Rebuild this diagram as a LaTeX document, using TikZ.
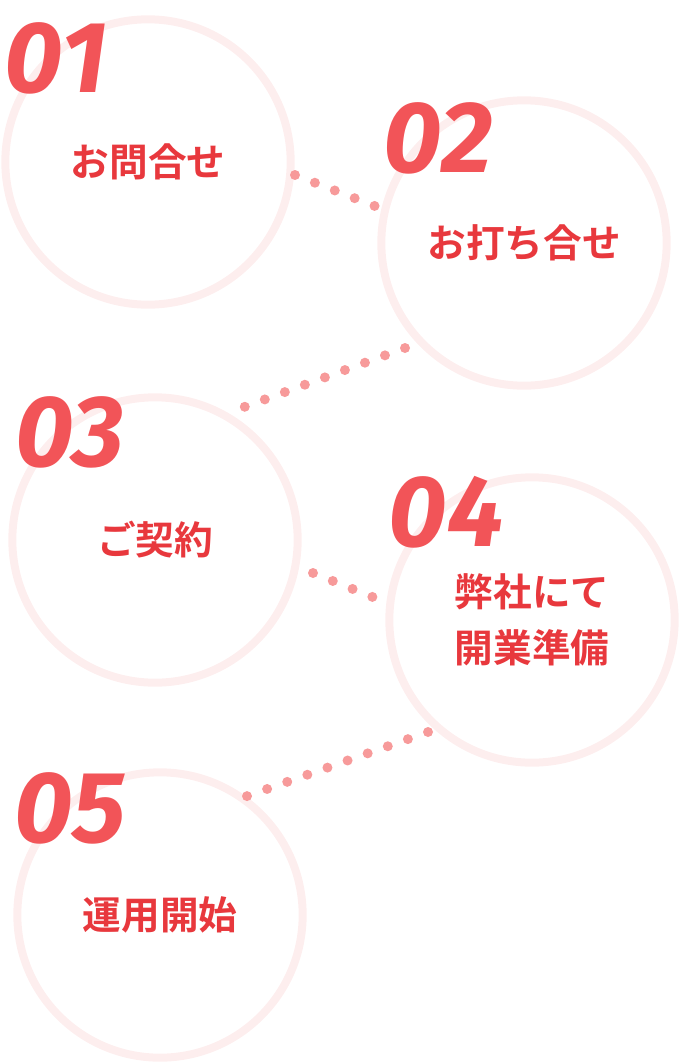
\documentclass[tikz,border=0pt]{standalone}
\usepackage{fontspec}
\setmainfont{Fira Sans}
\newfontfamily\jpfont{Noto Sans CJK JP Bold}
\usetikzlibrary{positioning}
\definecolor{ringpink}{HTML}{FDEEEE}
\definecolor{numred}{HTML}{F25458}
\definecolor{txtred}{HTML}{E8383D}
\definecolor{dotpink}{HTML}{F79A9A}
\begin{document}
\begin{tikzpicture}[x=0.75pt,y=-0.75pt,
  ring/.style={circle, draw=ringpink, line width=6pt, minimum size=214pt, font=\jpfont\fontsize{29}{42}\selectfont, text=txtred, align=center},
  stepnum/.style={font=\fontsize{76}{76}\selectfont\bfseries\itshape, text=numred},
  dotline/.style={draw=dotpink, line width=7.5pt, line cap=round, dash pattern=on 0pt off 16pt},
]
\useasboundingbox (0,0) rectangle (680,1064);

\node(s1) [ring] at (148,162){お問合せ};
\node(s2) [ring] at (524,243){お打ち合せ};
\node(s3) [ring] at (155,540){ご契約};
\node(s4) [ring] at (532,620){弊社にて\\開業準備};
\node(s5) [ring] at (160,915){運用開始};

\node(n1) [stepnum] at (56,58){01};
\node(n2) [stepnum] at (438,138){02};
\node(n3) [stepnum] at (70,432){03};
\node(n4) [stepnum] at (446,512){04};
\node(n5) [stepnum] at (70,808){05};

\coordinate (a1) at (295,175); \coordinate (b1) at (385,210);
\coordinate (a2) at (405,348); \coordinate (b2) at (236,410);
\coordinate (a3) at (313,573); \coordinate (b3) at (385,602);
\coordinate (a4) at (428,732); \coordinate (b4) at (236,800);

\draw[dotline] (a1) -- (b1);
\draw[dotline] (a2) -- (b2);
\draw[dotline] (a3) -- (b3);
\draw[dotline] (a4) -- (b4);

\end{tikzpicture}
\end{document}
